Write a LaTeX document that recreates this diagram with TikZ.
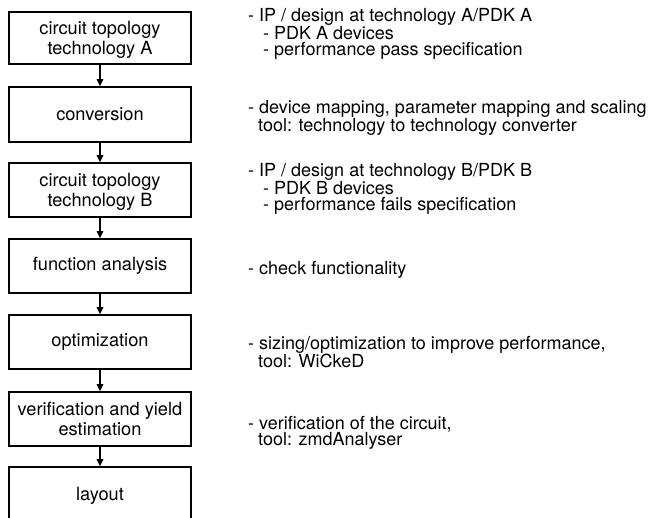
\documentclass[tikz,border=0pt]{standalone}
\usepackage{fontspec}
\setmainfont{TeX Gyre Heros}
\usetikzlibrary{arrows.meta}
\begin{document}
\begin{tikzpicture}[x=1pt,y=-1pt,
  stepbox/.style={draw, line width=1.6pt, minimum width=182pt, minimum height=54pt,
    inner sep=0pt, align=center, font=\fontsize{18.2}{20}\selectfont},
  twoline/.style={text depth=-4pt},
  note/.style={anchor=north west, inner sep=0pt, align=left,
    font=\fontsize{18}{16.4}\selectfont},
  flow/.style={line width=1.3pt, -{Triangle[length=7pt,width=6.5pt]}}]
\useasboundingbox (0,0) rectangle (648,518);

% flow of design steps
\node[stepbox, twoline, minimum height=52pt] (s1) at (100,38) {circuit topology\\technology A};
\node[stepbox, minimum height=55pt] (s2) at (100,114.5) {conversion};
\node[stepbox, twoline] (s3) at (100,190) {circuit topology\\technology B};
\node[stepbox] (s4) at (100,266) {function analysis};
\node[stepbox] (s5) at (100,342) {optimization};
\node[stepbox, twoline] (s6) at (100,419) {verification and yield\\estimation};
\node[stepbox, minimum height=58pt] (s7) at (100,496) {layout};

\foreach \a/\b in {s1/s2, s2/s3, s3/s4, s4/s5, s5/s6, s6/s7}
  \draw[flow] (\a) -- (\b);

% remarks beside each step
\node[note] (n1) at (248,8) {- IP / design at technology A/PDK A\\
  \hspace*{15pt}- PDK A devices\\
  \hspace*{15pt}- performance pass specification};
\node[note] (n2) at (248,100) {- device mapping, parameter mapping and scaling\\
  \hspace*{10pt}tool: technology to technology converter};
\node[note] (n3) at (248,163) {- IP / design at technology B/PDK B\\
  \hspace*{15pt}- PDK B devices\\
  \hspace*{15pt}- performance fails specification};
\node[note] (n4) at (248,261) {- check functionality};
\node[note] (n5) at (248,336) {- sizing/optimization to improve performance,\\
  \hspace*{10pt}tool: WiCkeD};
\node[note] (n6) at (248,416) {- verification of the circuit,\\
  \hspace*{10pt}tool: zmdAnalyser};
\end{tikzpicture}
\end{document}
